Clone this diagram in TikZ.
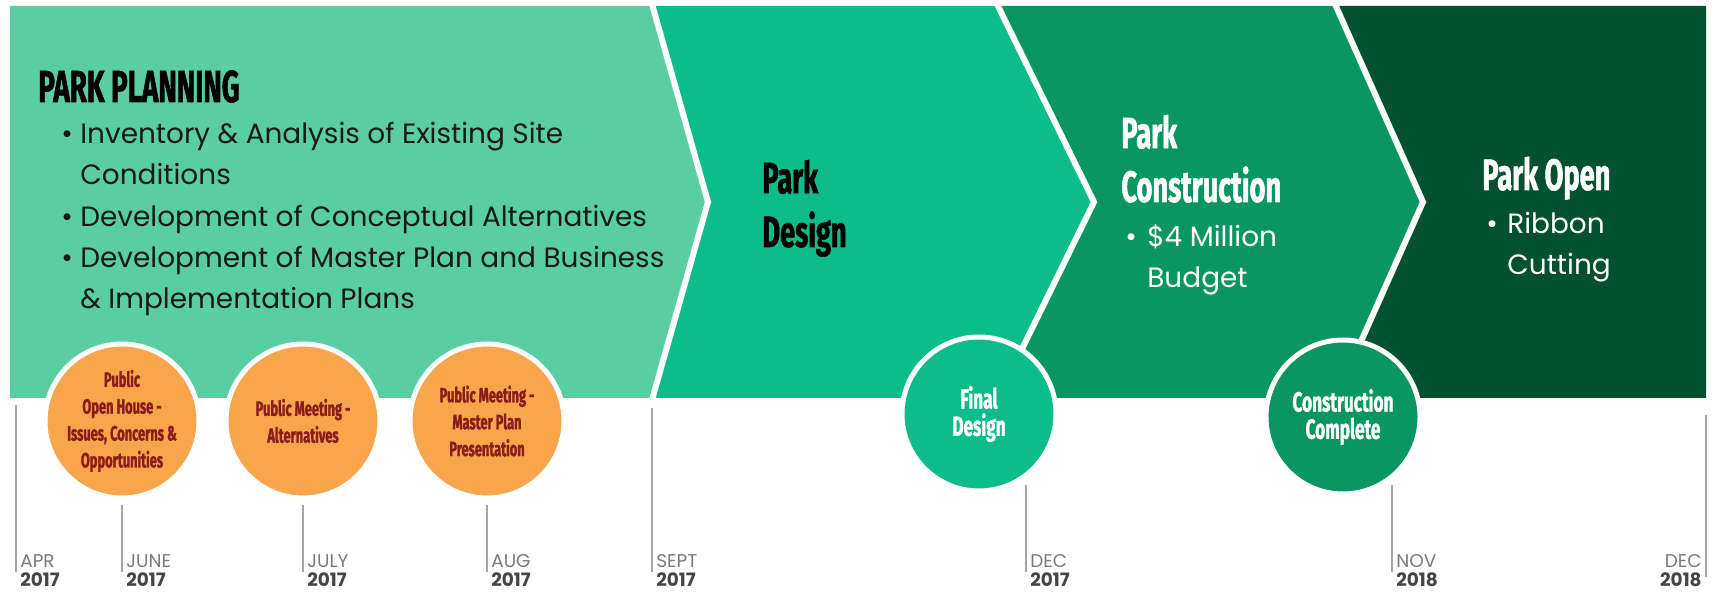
\documentclass[tikz,border=0pt]{standalone}
\usepackage{fontspec}
\setmainfont{Poppins}
\newfontfamily\headfont[FakeStretch=0.62,FakeBold=1.2]{Fira Sans}
\usetikzlibrary{positioning}
\definecolor{planning}{HTML}{5ACEA3}
\definecolor{design}{HTML}{0CBC8B}
\definecolor{construct}{HTML}{0A9662}
\definecolor{opening}{HTML}{03512F}
\definecolor{meeting}{HTML}{F8A54C}
\definecolor{meetingtext}{HTML}{8A1C1C}
\definecolor{tickgray}{HTML}{A5A5A5}
\definecolor{monthgray}{HTML}{7A7A7A}
\definecolor{yeargray}{HTML}{454545}

\begin{document}
\begin{tikzpicture}[x=0.2mm,y=-0.2mm]
    \tikzstyle{sep} = [draw=white,line width=1.2mm,line join=miter]
    \tikzstyle{milestone} = [circle,draw=white,line width=1mm,minimum size=3.08cm,inner sep=0pt,align=center,font=\headfont\bfseries\fontsize{11.8}{15.3}\selectfont]
    \tikzstyle{meet} = [milestone,fill=meeting,text=meetingtext]
    \tikzstyle{reached} = [milestone,text=white,font=\headfont\bfseries\fontsize{15.8}{15.5}\selectfont]
    \tikzstyle{heading} = [anchor=base west,align=left,inner sep=0pt,font=\headfont\bfseries\fontsize{25}{30.6}\selectfont]
    \tikzstyle{bullets} = [anchor=base west,align=left,inner sep=0pt,font=\fontsize{15.9}{23.6}\selectfont]
    \tikzstyle{tick} = [draw=tickgray,line width=0.3mm]
    \tikzstyle{month} = [inner sep=0pt,text=monthgray,font=\fontsize{10.5}{11}\selectfont]
    \tikzstyle{year} = [inner sep=0pt,text=yeargray,font=\bfseries\fontsize{10.5}{11}\selectfont]
    \useasboundingbox (0,0) rectangle (1712,596);
    % phases
    \fill[planning] (10,6) -- (652,6) -- (708,202) -- (652,398) -- (10,398) -- cycle;
    \fill[design] (652,6) -- (997,6) -- (1094,202) -- (997,398) -- (652,398) -- (708,202) -- cycle;
    \fill[construct] (997,6) -- (1335,6) -- (1423,202) -- (1335,398) -- (997,398) -- (1094,202) -- cycle;
    \fill[opening] (1335,6) -- (1706,6) -- (1706,398) -- (1335,398) -- (1423,202) -- cycle;
    \draw[sep] (652,4) -- (708,202) -- (652,400);
    \draw[sep] (997,4) -- (1094,202) -- (997,400);
    \draw[sep] (1335,4) -- (1423,202) -- (1335,400);
    % texts (base = last line)
    \node[heading,font=\headfont\bfseries\fontsize{25.5}{30}\selectfont] (plantitle) at (38,102) {PARK PLANNING};
    \node[bullets,text=black!90] (planlist) at (61,309) {\makebox[0.38cm][l]{\textbullet}Inventory \& Analysis of Existing Site\\
        \hspace*{0.38cm}Conditions\\
        \makebox[0.38cm][l]{\textbullet}Development of Conceptual Alternatives\\
        \makebox[0.38cm][l]{\textbullet}Development of Master Plan and Business\\
        \hspace*{0.38cm}\& Implementation Plans};
    \node[heading] (designtitle) at (762,247) {Park\\Design};
    \node[heading,text=white] (consttitle) at (1121,202) {Park\\Construction};
    \node[bullets,text=white] (constlist) at (1125,288) {\makebox[0.44cm][l]{\textbullet}\$4 Million\\\hspace*{0.44cm}Budget};
    \node[heading,text=white] (opentitle) at (1482,190) {Park Open};
    \node[bullets,text=white] (openlist) at (1486,275) {\makebox[0.42cm][l]{\textbullet}Ribbon\\\hspace*{0.42cm}Cutting};
    % milestones
    \node[meet] (househ) at (122,421) {Public\\Open House -\\Issues, Concerns \&\\Opportunities};
    \node[meet] (altmeet) at (303,421) {Public Meeting -\\Alternatives};
    \node[meet] (plannmeet) at (487,421) {Public Meeting -\\Master Plan\\Presentation};
    \node[reached,fill=design] (finaldes) at (979,414) {Final\\Design};
    \node[reached,fill=construct] (constdone) at (1343,417) {Construction\\Complete};
    % timeline
    \foreach \i/\x/\ytop/\mon/\yr in {1/16/405/APR/2017, 2/122/505/JUNE/2017, 3/303/505/JULY/2017, 4/487/505/AUG/2017, 5/652/408/SEPT/2017, 6/1026/485/DEC/2017, 7/1392/485/NOV/2018}{
        \coordinate (top\i) at (\x,\ytop);
        \coordinate (bot\i) at (\x,572);
        \draw[tick] (top\i) -- (bot\i);
        \node[month,anchor=base west] (mon\i) at (\x+4,568) {\mon};
        \node[year,anchor=base west] (yr\i) at (\x+4,587) {\yr};
    }
    \coordinate (top8) at (1706,415);
    \coordinate (bot8) at (1706,577);
    \draw[tick] (top8) -- (bot8);
    \node[month,anchor=base east] (mon8) at (1702,568) {DEC};
    \node[year,anchor=base east] (yr8) at (1702,587) {2018};
\end{tikzpicture}
\end{document}
